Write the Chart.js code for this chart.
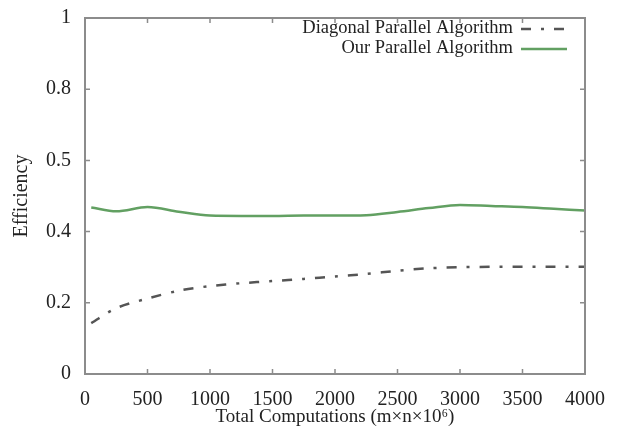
<!DOCTYPE html>
<html>
<head>
<meta charset="utf-8">
<script src="https://cdn.jsdelivr.net/npm/chart.js@4/dist/chart.umd.min.js"></script>
<style>
  html, body { margin: 0; padding: 0; background: #fff; }
  #wrap { width: 620px; height: 438px; }
</style>
</head>
<body>
<div id="wrap"><canvas id="effChart" width="620" height="438"></canvas></div>
<script>
// data
const xValues = [50, 250, 500, 750, 1000, 1250, 1500, 1750, 2000, 2250, 2500, 2750, 3000, 3250, 3500, 3750, 4000];
const diagonalEff = [0.143, 0.185, 0.212, 0.234, 0.247, 0.255, 0.261, 0.267, 0.274, 0.281, 0.290, 0.297, 0.300, 0.301, 0.301, 0.301, 0.301];
const ourEff = [0.468, 0.457, 0.469, 0.456, 0.445, 0.444, 0.444, 0.445, 0.445, 0.446, 0.455, 0.466, 0.475, 0.472, 0.469, 0.464, 0.459];
const yTickLabels = ['0', '0.2', '0.4', '0.5', '0.8', '1'];
const xTickLabels = ['0', '500', '1000', '1500', '2000', '2500', '3000', '3500', '4000'];
const seriesNames = ['Diagonal Parallel Algorithm', 'Our Parallel Algorithm'];

const SERIF = "'Liberation Serif', 'DejaVu Serif', serif";

function toPoints(ys) {
    return xValues.map((x, i) => ({ x: x, y: ys[i] }));
}

// frame + inward tick marks, gnuplot style
const framePlugin = {
    id: 'frame',
    afterDraw(chart) {
        const ctx = chart.ctx;
        const a = chart.chartArea;
        const xs = chart.scales.x, ys = chart.scales.y;
        ctx.save();
        ctx.strokeStyle = '#8c8c8c';
        ctx.lineWidth = 2;
        ctx.strokeRect(a.left, a.top, a.right - a.left, a.bottom - a.top);
        ctx.lineWidth = 1.5;
        ctx.beginPath();
        xs.ticks.forEach(t => {
            const px = xs.getPixelForValue(t.value);
            ctx.moveTo(px, a.bottom); ctx.lineTo(px, a.bottom - 5);
            ctx.moveTo(px, a.top); ctx.lineTo(px, a.top + 5);
        });
        ys.ticks.forEach(t => {
            const py = ys.getPixelForValue(t.value);
            ctx.moveTo(a.left, py); ctx.lineTo(a.left + 5, py);
            ctx.moveTo(a.right, py); ctx.lineTo(a.right - 5, py);
        });
        ctx.stroke();
        ctx.restore();
    }
};

// legend: text right-aligned, line sample to its right
const keyPlugin = {
    id: 'key',
    afterDraw(chart) {
        const ctx = chart.ctx;
        const rows = [28, 48];
        ctx.save();
        ctx.font = "18.5px " + SERIF;
        ctx.textAlign = 'right';
        ctx.textBaseline = 'middle';
        chart.data.datasets.forEach((ds, i) => {
            const y = rows[i];
            ctx.fillStyle = '#222';
            ctx.fillText(ds.label, 513, y);
            ctx.strokeStyle = ds.borderColor;
            ctx.lineWidth = ds.borderWidth;
            ctx.setLineDash(ds.borderDash || []);
            ctx.beginPath();
            ctx.moveTo(521, y + 1);
            ctx.lineTo(567, y + 1);
            ctx.stroke();
        });
        ctx.restore();
    }
};

new Chart(document.getElementById('effChart'), {
    type: 'line',
    data: {
        datasets: [
            {
                label: seriesNames[0],
                data: toPoints(diagonalEff),
                borderColor: '#555555',
                borderWidth: 2.5,
                borderDash: [10, 10, 3, 10],
                pointRadius: 0,
                tension: 0.3,
                fill: false
            },
            {
                label: seriesNames[1],
                data: toPoints(ourEff),
                borderColor: '#62a062',
                borderWidth: 2.5,
                pointRadius: 0,
                tension: 0.4,
                cubicInterpolationMode: 'monotone',
                fill: false
            }
        ]
    },
    options: {
        responsive: false,
        animation: false,
        layout: { padding: { left: 0, right: 35, top: 15, bottom: 0 } },
        plugins: {
            legend: { display: false },
            tooltip: { enabled: false }
        },
        scales: {
            x: {
                type: 'linear',
                min: 0, max: 4000,
                grid: { display: false },
                border: { display: false },
                ticks: {
                    stepSize: 500,
                    padding: 6,
                    maxRotation: 0,
                    color: '#222',
                    font: { family: SERIF, size: 20 },
                    callback: (v, i) => xTickLabels[i]
                },
                title: {
                    display: true,
                    text: 'Total Computations (m×n×10⁶)',
                    color: '#222',
                    font: { family: SERIF, size: 19 },
                    padding: 10
                },
                afterFit(scale) { scale.height = 64; }
            },
            y: {
                min: 0, max: 1,
                grid: { display: false },
                border: { display: false },
                ticks: {
                    stepSize: 0.2,
                    padding: 6,
                    color: '#222',
                    font: { family: SERIF, size: 20 },
                    callback: (v, i) => yTickLabels[i]
                },
                title: {
                    display: true,
                    text: 'Efficiency',
                    color: '#222',
                    font: { family: SERIF, size: 20 },
                    padding: 10
                },
                afterFit(scale) { scale.width = 85; }
            }
        }
    },
    plugins: [framePlugin, keyPlugin]
});
</script>
</body>
</html>
